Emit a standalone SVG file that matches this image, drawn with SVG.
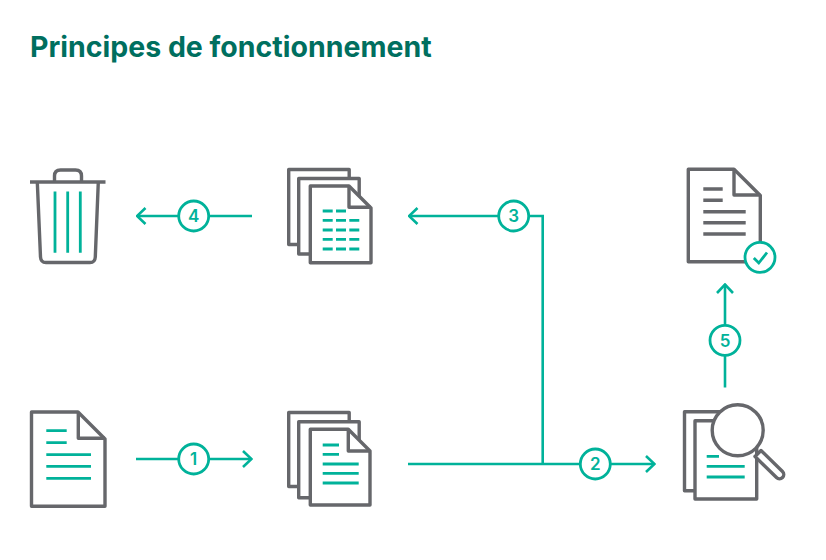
<svg xmlns="http://www.w3.org/2000/svg" width="826" height="560" viewBox="0 0 826 560">
<defs>
<style>
.g{fill:#fff;stroke:#66676b;stroke-width:3.4;stroke-linejoin:round;stroke-linecap:butt}
.f{fill:none;stroke:#66676b;stroke-width:3.4;stroke-linejoin:round}
.t{fill:none;stroke:#00b29a;stroke-width:2.6}
.c{fill:#fff;stroke:#00b29a;stroke-width:2.8}
.i{fill:none;stroke:#00b29a;stroke-width:2.8}
.n{font-family:Inter,"Liberation Sans",sans-serif;font-size:17px;font-weight:600;fill:#00b29a;text-anchor:middle}
.title{font-family:Inter,"Liberation Sans",sans-serif;font-size:28.5px;font-weight:700;fill:#006f5f}
</style>
<marker id="arrow" viewBox="0 0 12 18" refX="10.500" refY="9" markerWidth="12" markerHeight="18" markerUnits="userSpaceOnUse" orient="auto">
<path d="M2 1L10.500 9L2 17" fill="none" stroke="#00b29a" stroke-width="2.6"/>
</marker>
</defs>
<rect width="826" height="560" fill="#fff"/>
<text class="title" x="30" y="57">Principes de fonctionnement</text>

<g id="connectors">
<path class="t" d="M252 216H137" marker-end="url(#arrow)"/>
<path class="t" d="M136 459H251.500" marker-end="url(#arrow)"/>
<path class="t" d="M408 464H654.500" marker-end="url(#arrow)"/>
<path class="t" d="M542.700 464V216H409" marker-end="url(#arrow)"/>
<path class="t" d="M725 387.500V284.500" marker-end="url(#arrow)"/>
</g>

<g id="label-1"><circle class="c" cx="193.700" cy="459" r="15"/><text class="n" x="193.700" y="465.200">1</text></g>
<g id="label-2"><circle class="c" cx="595.300" cy="464" r="15"/><text class="n" x="595.300" y="470.200">2</text></g>
<g id="label-3"><circle class="c" cx="513.700" cy="216" r="15"/><text class="n" x="513.700" y="222.200">3</text></g>
<g id="label-4"><circle class="c" cx="193.700" cy="216" r="15"/><text class="n" x="193.700" y="222.200">4</text></g>
<g id="label-5"><circle class="c" cx="725" cy="340.300" r="15"/><text class="n" x="725" y="346.500">5</text></g>

<g id="trash">
<path class="f" d="M54.500 182V176Q54.500 170 60.500 170H75.500Q81.500 170 81.500 176V182"/>
<path class="f" d="M30 182H105.500"/>
<path class="f" d="M37.300 182L40.500 257Q40.800 262.500 46 262.500H90Q95 262.500 95.300 257L98.300 182"/>
<path class="i" d="M55 191.500V252.700M67.700 191.500V252.700M80.300 191.500V252.700"/>
</g>

<g id="table-docs">
<rect class="g" x="288.700" y="169.500" width="60.500" height="75"/>
<rect class="g" x="298.700" y="178.500" width="60.500" height="75.500"/>
<path class="g" d="M310.300 186H349L371 208V262.700H310.300Z"/>
<path class="f" d="M349 186V207.300H371"/>
<path class="i" d="M322.700 211H332.700M336 211H346M322.700 220.300H332.700M336 220.300H346M349.300 220.300H359.300M322.700 230H332.700M336 230H346M349.300 230H359.300M322.700 239.300H332.700M336 239.300H346M349.300 239.300H359.300M322.700 249H332.700M336 249H346M349.300 249H359.300"/>
</g>

<g id="source-doc">
<path class="g" d="M31.500 412H78L105 439V506.300H31.500Z"/>
<path class="f" d="M78.300 412V438.300H105"/>
<path class="i" d="M46.300 430.700H66.700M46.300 442.700H66.700M46.300 454.700H91M46.300 466.300H91M46.300 478.300H91"/>
</g>

<g id="text-docs">
<rect class="g" x="288.700" y="412.500" width="60.500" height="74"/>
<rect class="g" x="298.700" y="421.700" width="60.500" height="76"/>
<path class="g" d="M310.300 429.300H348.300L370 451V505H310.300Z"/>
<path class="f" d="M348.300 429.300V451H370"/>
<path class="i" d="M322.700 445H339M322.700 454.300H339M322.700 464H358.700M322.700 473.300H358.700M322.700 483H358.700"/>
</g>

<g id="inspect-docs">
<rect class="g" x="684.500" y="411.700" width="50" height="79"/>
<rect class="g" x="695" y="420.700" width="61.700" height="78.300"/>
<path class="g" d="M761 450.500L782.500 471.500A4.200 4.200 0 0 1 776.500 477.500L755 456.500Z"/>
<circle class="g" cx="737.700" cy="430.300" r="25.500"/>
<path class="i" d="M706.700 456.300H719M706.700 466.300H744.700M706.700 477H744.700"/>
</g>

<g id="checked-doc">
<path class="g" d="M688.300 169.300H734L760.300 195.500V261.700H688.300Z"/>
<path class="f" d="M734 169.300V195H760.300"/>
<path class="f" d="M703.300 189H722.700M703.300 200.300H722.700M703.300 211.700H745.700M703.300 222.700H745.700M703.300 234H745.700"/>
<circle class="c" cx="760" cy="257.300" r="15"/>
<path class="i" stroke-width="3" d="M753.800 258L758.800 263L767 252.500"/>
</g>
</svg>
